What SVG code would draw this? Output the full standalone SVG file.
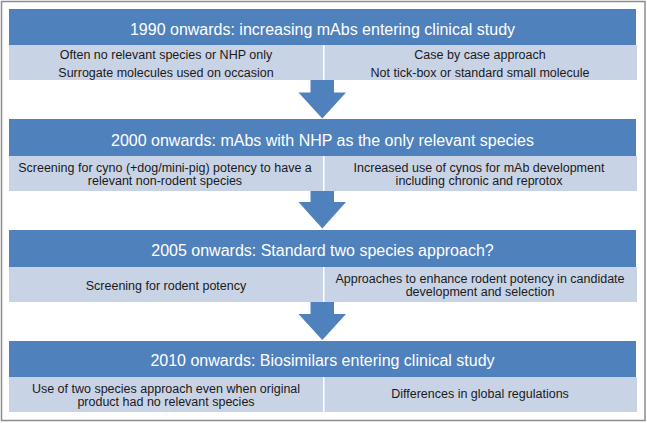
<svg xmlns="http://www.w3.org/2000/svg" width="647" height="423" viewBox="0 0 647 423">
<style>
.frame{fill:#fff;stroke:#8c8c8c;stroke-width:1.5}
.hdr{fill:#4f81bd}
.sub{fill:#c9d3e6}
.ht{font-family:"Liberation Sans",Arial,sans-serif;font-size:16px;fill:#fff;text-anchor:middle}
.st{font-family:"Liberation Sans",Arial,sans-serif;font-size:12.5px;fill:#1a1a1a;text-anchor:middle}
.arr{fill:#4f81bd}
</style>
<rect class="frame" x="1.5" y="1.5" width="643.5" height="419"/>
<g id="stage1">
<rect class="hdr" x="9" y="9" width="627" height="36"/>
<rect class="sub" x="9" y="45" width="314" height="35"/>
<rect class="sub" x="324.5" y="45" width="312.5" height="35"/>
<text class="ht" x="322.5" y="35">1990 onwards: increasing mAbs entering clinical study</text>
<text class="st" x="166" y="58.5">Often no relevant species or NHP only</text>
<text class="st" x="166" y="77">Surrogate molecules used on occasion</text>
<text class="st" x="480" y="58.5">Case by case approach</text>
<text class="st" x="480" y="77">Not tick-box or standard small molecule</text>
</g>
<g id="stage2">
<rect class="hdr" x="9" y="119" width="627" height="37"/>
<rect class="sub" x="9" y="156" width="314" height="35"/>
<rect class="sub" x="324.5" y="156" width="312.5" height="35"/>
<text class="ht" x="322.5" y="145.5">2000 onwards: mAbs with NHP as the only relevant species</text>
<text class="st" x="165" y="172">Screening for cyno (+dog/mini-pig) potency to have a</text>
<text class="st" x="165" y="185">relevant non-rodent species</text>
<text class="st" x="479" y="172">Increased use of cynos for mAb development</text>
<text class="st" x="479" y="185">including chronic and reprotox</text>
</g>
<g id="stage3">
<rect class="hdr" x="9" y="230" width="627" height="37"/>
<rect class="sub" x="9" y="267" width="314" height="35"/>
<rect class="sub" x="324.5" y="267" width="312.5" height="35"/>
<text class="ht" x="322.5" y="256">2005 onwards: Standard two species approach?</text>
<text class="st" x="166" y="290">Screening for rodent potency</text>
<text class="st" x="480" y="283">Approaches to enhance rodent potency in candidate</text>
<text class="st" x="480" y="296">development and selection</text>
</g>
<g id="stage4">
<rect class="hdr" x="9" y="341" width="627" height="36"/>
<rect class="sub" x="9" y="377" width="314" height="35"/>
<rect class="sub" x="324.5" y="377" width="312.5" height="35"/>
<text class="ht" x="322.5" y="366">2010 onwards: Biosimilars entering clinical study</text>
<text class="st" x="166" y="393">Use of two species approach even when original</text>
<text class="st" x="166" y="406">product had no relevant species</text>
<text class="st" x="480" y="398">Differences in global regulations</text>
</g>
<g id="connectors">
<polygon class="arr" points="310.5,80 334,80 334,92.5 346,92.5 322.3,118.5 298.5,92.5 310.5,92.5"/>
<polygon class="arr" points="310.5,191 334,191 334,202 346,202 322.3,228.5 298.5,202 310.5,202"/>
<polygon class="arr" points="310.5,302 334,302 334,314 346,314 322.3,340 298.5,314 310.5,314"/>
</g>
</svg>
